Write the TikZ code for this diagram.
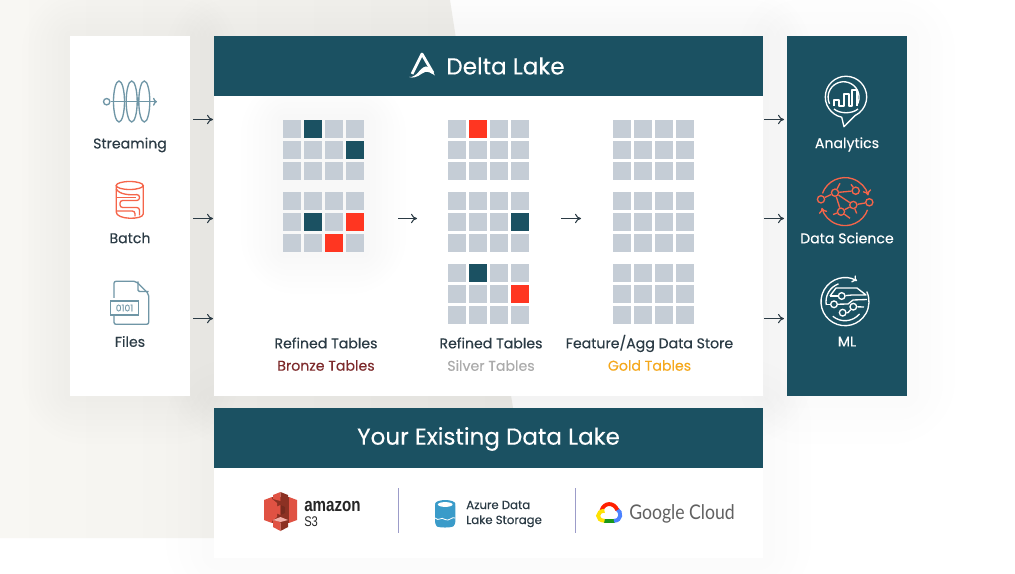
\documentclass[tikz,border=0pt]{standalone}
\usepackage{fontspec}
\setmainfont[FakeBold=0.25]{Poppins}
\newfontfamily\logofont[FakeStretch=0.8]{Liberation Sans}
\newfontfamily\cloudfont[FakeStretch=0.87]{Lato}
\usetikzlibrary{positioning,arrows.meta}
\definecolor{teal}{HTML}{1B5162}
\definecolor{cellgrey}{HTML}{C5CDD6}
\definecolor{hotred}{HTML}{FF3621}
\definecolor{inktext}{HTML}{2B3B45}
\definecolor{iconblue}{HTML}{6F96A6}
\definecolor{iconred}{HTML}{F5654A}
\definecolor{bronzetext}{HTML}{7D2A2B}
\definecolor{goldtext}{HTML}{F5A81C}
\definecolor{sandlight}{HTML}{F8F7F3}
\definecolor{sanddark}{HTML}{EFEEEA}
\definecolor{s3light}{HTML}{E05243}
\definecolor{s3dark}{HTML}{8C3123}
\definecolor{s3pale}{HTML}{F2B0A9}
\definecolor{azureblue}{HTML}{3A9BC9}
\newcommand{\softglow}[6]{%
  \foreach \g in {#6,#5,...,48}
    \fill[black,opacity=0.004,rounded corners=\g pt] (#1-\g,#2-\g) rectangle (#3+\g,#4+\g);
}
\newcommand{\cellgrid}[3]{%
  \foreach \c in {0,...,3}
    \foreach \r in {0,1,2}
      \node[cell] (#1-\c-\r) at (#2+\c*21+9,#3+\r*21+9) {};
}
\begin{document}
\begin{tikzpicture}[
      x=0.75pt,y=-0.75pt,
      panel/.style={draw=none,fill=white,inner sep=0,outer sep=0,rectangle},
      tealpanel/.style={panel,fill=teal,text=white},
      cell/.style={rectangle,fill=cellgrey,inner sep=0,minimum size=13.5pt},
      darkcell/.style={cell,fill=teal},
      redcell/.style={cell,fill=hotred},
      flow/.style={-{To[length=4.5pt,width=7pt]},line width=0.8pt,color=inktext},
      label/.style={font=\fontsize{10.6}{12}\selectfont,text=inktext,inner sep=0},
      whitelabel/.style={label,text=white},
      title/.style={font=\fontsize{17.3}{20}\selectfont,text=white,inner sep=0},
      iconline/.style={line width=1pt,color=iconblue},
      whiteline/.style={line width=1pt,color=white},
      redline/.style={line width=1pt,color=iconred},
      dsnode/.style={circle,draw=iconred,line width=1pt,inner sep=0,minimum size=5.4pt},
      mlnode/.style={circle,draw=white,line width=1pt,inner sep=0,minimum size=5pt},
      divider/.style={line width=0.8pt,color=blue!30!gray!60},
      ]
      \useasboundingbox (0,0) rectangle (1015,574);
      \fill[white] (0,0) rectangle (1015,574);
      \shade[left color=sandlight,right color=sanddark]
        (0,0) -- (450,0) -- (513,408) -- (513,538) -- (0,538) -- cycle;
      \softglow{70}{36}{190}{396}{12}{6}
      \softglow{214}{36}{763}{396}{12}{6}
      \softglow{787}{36}{907}{396}{24}{12}
      \softglow{214}{408}{763}{558}{24}{12}

      \node[panel,minimum width=90pt,minimum height=270pt] (sources) at (130,216) {};
      \node[panel,minimum width=411.75pt,minimum height=225pt] (deltabody) at (488.5,246) {};
      \node[tealpanel,minimum width=411.75pt,minimum height=45pt] (deltahead) at (488.5,66) {};
      \node[tealpanel,minimum width=90pt,minimum height=270pt] (targets) at (847,216) {};
      \node[tealpanel,minimum width=411.75pt,minimum height=45pt] (lakehead) at (488.5,438) {};
      \node[panel,minimum width=411.75pt,minimum height=67.5pt] (lakebody) at (488.5,513) {};

      \node[title] (deltatitle) at (505.5,66) {Delta Lake};
      \node[title] (laketitle) at (488.5,439) {Your Existing Data Lake};

      \begin{scope}
        \clip (240,97) rectangle (410,330);
        \foreach \g in {6,12,...,42}
          \fill[black,opacity=0.004,rounded corners=\g pt] (283-\g,120-\g) rectangle (364+\g,252+\g);
      \end{scope}

      \cellgrid{bronzeA}{283}{120}
      \cellgrid{bronzeB}{283}{192}
      \cellgrid{silverA}{448}{120}
      \cellgrid{silverB}{448}{192}
      \cellgrid{silverC}{448}{264}
      \cellgrid{goldA}{613}{120}
      \cellgrid{goldB}{613}{192}
      \cellgrid{goldC}{613}{264}
      \node[darkcell] (bronzeAhit) at (bronzeA-1-0) {};
      \node[darkcell] (bronzeAnew) at (bronzeA-3-1) {};
      \node[darkcell] (bronzeBhit) at (bronzeB-1-1) {};
      \node[redcell] (bronzeBbad) at (bronzeB-3-1) {};
      \node[redcell] (bronzeBerr) at (bronzeB-2-2) {};
      \node[redcell] (silverAbad) at (silverA-1-0) {};
      \node[darkcell] (silverBhit) at (silverB-3-1) {};
      \node[darkcell] (silverChit) at (silverC-1-0) {};
      \node[redcell] (silverCbad) at (silverC-3-1) {};

      \foreach \yy/\i in {119.5/a,218.5/b,318.6/c} {
        \coordinate (in\i) at (193,\yy);
        \coordinate (delta\i) at (213,\yy);
        \draw[flow] (in\i) -- (delta\i);
        \coordinate (out\i) at (764,\yy);
        \coordinate (target\i) at (784,\yy);
        \draw[flow] (out\i) -- (target\i);
      }
      \coordinate (bronzeout) at (398,218.5);
      \coordinate (silverin) at (417,218.5);
      \coordinate (silverout) at (561,218.5);
      \coordinate (goldin) at (581,218.5);
      \draw[flow] (bronzeout) -- (silverin);
      \draw[flow] (silverout) -- (goldin);

      \node[label] (streaming) at (130,145) {Streaming};
      \node[label] (batch) at (130,238) {Batch};
      \node[label] (files) at (130,341.5) {Files};
      \node[whitelabel] (analytics) at (847,144.5) {Analytics};
      \node[whitelabel] (datascience) at (847,238) {Data Science};
      \node[whitelabel] (ml) at (847,341.5) {ML};
      \node[label] (refinedA) at (326,343) {Refined Tables};
      \node[label,text=bronzetext] (bronze) at (326,365.5) {Bronze Tables};
      \node[label] (refinedB) at (491,343) {Refined Tables};
      \node[label,text=black!33] (silver) at (491,365.5) {Silver Tables};
      \node[label] (feature) at (649.5,343.5) {Feature/Agg Data Store};
      \node[label,text=goldtext] (gold) at (649.5,365.5) {Gold Tables};

      % delta logo
      \draw[white,line width=2.1pt,line join=round] (412,74) -- (422,54) -- (433,73);
      \fill[white] (409,77) .. controls (417,78) and (420,67) .. (426,66.5)
        .. controls (430,66.5) and (433,71) .. (435,75.5) .. controls (431,73) and (428,71) .. (425,72)
        .. controls (421,73) and (417,79.5) .. (409,77) -- cycle;

      % streaming
      \foreach \xx in {119,131.7,144.3}
        \draw[iconline] (\xx,101.5) ellipse (5.5 and 20.5);
      \node[circle,draw=iconblue,line width=1pt,inner sep=0,minimum size=4.8pt] (streamstart) at (106.7,101.7) {};
      \coordinate (streamend) at (157,101.7);
      \draw[iconline,-{To[length=3pt,width=6pt]}] (streamstart) -- (streamend);

      % batch
      \draw[redline] (129.7,185.5) ellipse (13.5 and 4);
      \draw[redline] (116.2,185.5) -- (116.2,212) .. controls (116.2,220) and (143.2,220) .. (143.2,214) -- (143.2,185.5);
      \draw[redline,rounded corners=2pt] (116.2,189) .. controls (120,195) and (130,195) .. (139.5,194.5)
        -- (139.5,200.5) -- (120,200.5) -- (120,207.5) -- (139.5,207.5) -- (139.5,215.5);
      \draw[redline,rounded corners=2pt] (135.5,197.5) -- (124,197.5) -- (116.2,197.5);
      \draw[redline,rounded corners=2pt] (116.2,211) -- (135,211) -- (135,216.5);

      % files
      \draw[iconline,rounded corners=1.5pt] (114,298) -- (114,281.3) -- (136,281.3) -- (148.7,294) -- (148.7,324.3) -- (114,324.3) -- (114,315);
      \draw[iconline,rounded corners=1pt] (138,281.3) -- (138,291.5) -- (148.7,291.5);
      \node[draw=iconblue,line width=1pt,fill=white,inner sep=0,minimum width=20.7pt,minimum height=10.5pt,
        text=iconblue,font=\fontsize{6.9}{7}\selectfont] (binary) at (124.5,308) {0101};

      % analytics
      \draw[whiteline,line join=round] (841.7,117.2) arc[start angle=102,end angle=424,radius=20.7] -- (844,126.7) -- cycle;
      \draw[whiteline] (857,105) arc[start angle=30,end angle=-205,radius=15.5];
      \draw[whiteline,line join=round] (834,106) -- (834,100) -- (839,100) -- (839,106) -- (844,106) -- (844,94) -- (849,94)
        -- (849,106) -- (852,106) -- (852,90) -- (857,90) -- (857,106);
      \draw[whiteline] (834,109) .. controls (840,114) and (852,114) .. (858,109);

      % data science
      \draw[redline,-{To[length=4pt,width=6.5pt]}] (845,201.6) ++(200:24) arc[start angle=200,end angle=345,radius=24];
      \draw[redline,-{To[length=4pt,width=6.5pt]}] (845,201.6) ++(20:24) arc[start angle=20,end angle=165,radius=24];
      \node[dsnode] (dsA) at (821,199.3) {};
      \node[dsnode] (dsB) at (835,192.7) {};
      \node[dsnode] (dsC) at (855.7,190.7) {};
      \node[dsnode] (dsD) at (853.3,205) {};
      \node[dsnode] (dsE) at (869.3,202.3) {};
      \node[dsnode] (dsF) at (841,211.7) {};
      \coordinate (dsa) at (840,183.3);
      \coordinate (dsb) at (851,184.3);
      \coordinate (dsc) at (856.7,213.5);
      \coordinate (dsd) at (850,218.3);
      \coordinate (dse) at (833,214.5);
      \foreach \from/\to in {dsA/dsB,dsB/dsC,dsB/dsD,dsD/dsE,dsD/dsF,dsB/dsF,dsB/dsa,dsC/dsb,dsD/dsc,dsF/dsd,dsF/dse}
        \draw[redline] (\from) -- (\to);

      % ml
      \draw[whiteline,{To[length=3.5pt,width=6pt]}-] (845,301.7) ++(300:24) arc[start angle=300,end angle=-25,radius=24];
      \draw[whiteline] (845,301.7) ++(250:19) arc[start angle=250,end angle=170,radius=19];
      \draw[whiteline] (845,301.7) ++(130:19) arc[start angle=130,end angle=40,radius=19];
      \node[mlnode] (mlA) at (841.7,296) {};
      \node[mlnode] (mlB) at (834,304.3) {};
      \node[mlnode] (mlC) at (853.3,306.7) {};
      \node[mlnode] (mlD) at (842.7,312.7) {};
      \coordinate (mlp) at (830,296);
      \coordinate (mlq) at (826,304.3);
      \coordinate (mlr) at (864,307);
      \draw[whiteline] (mlp) -- (mlA);
      \draw[whiteline,line join=round] (830,296) -- (836,288) -- (857,288) -- (866,295) -- (852,295) -- (mlA);
      \draw[whiteline] (mlB) -- (848,304) -- (853,300) -- (867,299.5);
      \draw[whiteline] (mlq) -- (mlB);
      \draw[whiteline] (mlD) -- (848,312.7) -- (mlC);
      \draw[whiteline] (mlC) -- (mlr);

      % s3 logo
      \fill[s3dark] (272,497) -- (289,497) -- (289,523) -- (272,523) -- cycle;
      \fill[s3light] (264,500) -- (272,497) -- (272,523) -- (264,520) -- cycle;
      \fill[s3light] (272,499) -- (277,503) -- (277,517) -- (272,521) -- cycle;
      \fill[s3light] (289,497) -- (297,500) -- (297,520) -- (289,523) -- cycle;
      \fill[s3light] (273,495) -- (280.5,492) -- (280.5,501) -- (273,499) -- cycle;
      \fill[s3dark] (280.5,492) -- (288,495) -- (288,499) -- (280.5,501) -- cycle;
      \fill[s3light] (276,507) -- (280.5,505) -- (280.5,515) -- (276,513) -- cycle;
      \fill[s3dark!85!black] (280.5,505) -- (285,507) -- (285,513) -- (280.5,515) -- cycle;
      \fill[s3light] (273,520) -- (280.5,522) -- (280.5,531) -- (273,527) -- cycle;
      \fill[s3dark] (280.5,522) -- (288,520) -- (288,527) -- (280.5,531) -- cycle;
      \fill[s3pale] (273,520) -- (280.5,517) -- (288,520) -- (280.5,522) -- cycle;
      \node[inner sep=0,anchor=base west,font=\logofont\bfseries\fontsize{14.2}{15}\selectfont,text=black!85] (amazon) at (304,511.5) {amazon};
      \node[inner sep=0,anchor=base west,font=\logofont\fontsize{10.5}{11}\selectfont,text=black!85] (sthree) at (304,526) {S3};

      % dividers
      \coordinate (dividerAtop) at (398.5,488);
      \coordinate (dividerAend) at (398.5,533);
      \coordinate (dividerBtop) at (575.5,488);
      \coordinate (dividerBend) at (575.5,533);
      \draw[divider] (dividerAtop) -- (dividerAend);
      \draw[divider] (dividerBtop) -- (dividerBend);

      % azure
      \fill[azureblue,rounded corners=2pt] (435,503) -- (455.4,503) -- (455.4,524) .. controls (452,528) and (438,528) .. (435,524) -- cycle;
      \fill[azureblue] (445.2,504) ellipse (10.2 and 4);
      \fill[white] (445.2,504.5) ellipse (7.4 and 2.4);
      \draw[white,line width=0.6pt] (435,518) .. controls (439,522) and (441,516) .. (445,519.5) .. controls (449,522) and (452,516) .. (455.4,518);
      \node[label,anchor=base west,font=\fontsize{8.8}{10}\selectfont] (azureA) at (466,509) {Azure Data};
      \node[label,anchor=base west,font=\fontsize{8.8}{10}\selectfont] (azureB) at (466,524) {Lake Storage};

      % google cloud
      \draw[color=green!55!black!90,line width=2.9pt] (604,520.8) -- (614.5,520.8);
      \draw[color=blue!70!cyan!70,line width=2.9pt] (614,520.8) .. controls (621.5,520.8) and (622,512) .. (617,509);
      \draw[color=red!75!orange,line width=2.9pt] (617.3,510) .. controls (614,502) and (604,502) .. (601.5,510.5);
      \draw[color=yellow!85!orange,line width=2.9pt] (604.5,510.8) .. controls (596,511) and (596,520.5) .. (604.5,520.8);
      \node[inner sep=0,anchor=base west,font=\cloudfont\fontsize{15.2}{17}\selectfont,text=black!62] (google) at (629,519) {Google Cloud};
  \end{tikzpicture}
\end{document}
